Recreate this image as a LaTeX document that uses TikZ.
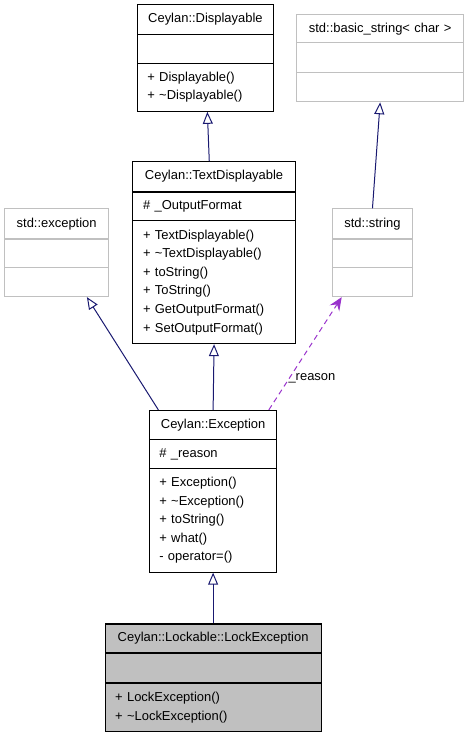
\PassOptionsToPackage{svgnames}{xcolor}
\documentclass[tikz,border=0pt]{standalone}
\usepackage{fontspec}
\setmainfont{Liberation Sans}
\usepackage{xcolor}
\usepackage{tikz}
\usetikzlibrary{arrows.meta}
\tikzset{>={Latex[width=1.5mm,length=2mm]}}
\tikzset{
  classbox/.style={shape=rectangle,draw=black,line width=0.8pt,fill=white,inner sep=0pt,font=\fontsize{9.75pt}{14pt}\selectfont},
  extbox/.style={classbox,draw=Silver},
  focusbox/.style={classbox,fill=Silver},
  inherit/.style={draw=MidnightBlue,line width=0.75pt,-{Triangle[open,length=9pt,width=7.5pt]}},
  usage/.style={draw=DarkOrchid,line width=0.75pt,dash pattern=on 4pt off 3pt,-{Stealth[length=10pt,width=8.5pt,inset=3.5pt]}}
}

\begin{document}
\begin{tikzpicture}

\useasboundingbox (0in,0in) rectangle (4.875in,-7.667in);

% Ceylan::Displayable
\path (2.14in,-0.20in) node [classbox,minimum height=0.31in,minimum width=1.42in,text width=1.21in,align=center] (dispTitle) {Ceylan::Displayable};
\path (2.14in,-0.51in) node [classbox,minimum height=0.30in,minimum width=1.42in] (dispAttr) {};
\path (2.14in,-0.91in) node [classbox,minimum height=0.50in,minimum width=1.42in,text width=1.21in,align=left] (dispOps) {+ Displayable()\\+ \textasciitilde Displayable()};

% std::basic_string< char >
\path (3.96in,-0.30in) node [extbox,minimum height=0.30in,minimum width=1.74in,text width=1.53in,align=center] (basicTitle) {std::basic\_string< char >};
\path (3.96in,-0.60in) node [extbox,minimum height=0.31in,minimum width=1.74in] (basicAttr) {};
\path (3.96in,-0.91in) node [extbox,minimum height=0.30in,minimum width=1.74in] (basicOps) {};

% Ceylan::TextDisplayable
\path (2.23in,-1.84in) node [classbox,minimum height=0.31in,minimum width=1.69in,text width=1.48in,align=center] (textTitle) {Ceylan::TextDisplayable};
\path (2.23in,-2.15in) node [classbox,minimum height=0.30in,minimum width=1.69in,text width=1.48in,align=left] (textAttr) {\# \_OutputFormat};
\path (2.23in,-2.94in) node [classbox,minimum height=1.28in,minimum width=1.69in,text width=1.48in,align=left] (textOps) {+ TextDisplayable()\\+ \textasciitilde TextDisplayable()\\+ toString()\\+ ToString()\\+ GetOutputFormat()\\+ SetOutputFormat()};

% std::exception
\path (0.59in,-2.33in) node [extbox,minimum height=0.31in,minimum width=1.08in,text width=0.87in,align=center] (stdexcTitle) {std::exception};
\path (0.59in,-2.64in) node [extbox,minimum height=0.30in,minimum width=1.08in] (stdexcAttr) {};
\path (0.59in,-2.94in) node [extbox,minimum height=0.30in,minimum width=1.08in] (stdexcOps) {};

% std::string
\path (3.88in,-2.33in) node [extbox,minimum height=0.31in,minimum width=0.83in,text width=0.70in,align=center] (stringTitle) {std::string};
\path (3.88in,-2.64in) node [extbox,minimum height=0.30in,minimum width=0.83in] (stringAttr) {};
\path (3.88in,-2.94in) node [extbox,minimum height=0.30in,minimum width=0.83in] (stringOps) {};

% Ceylan::Exception
\path (2.22in,-4.43in) node [classbox,minimum height=0.31in,minimum width=1.33in,text width=1.12in,align=center] (exceptTitle) {Ceylan::Exception};
\path (2.22in,-4.73in) node [classbox,minimum height=0.30in,minimum width=1.33in,text width=1.12in,align=left] (exceptAttr) {\# \_reason};
\path (2.22in,-5.42in) node [classbox,minimum height=1.08in,minimum width=1.33in,text width=1.12in,align=left] (exceptOps) {+ Exception()\\+ \textasciitilde Exception()\\+ toString()\\+ what()\\- operator=()};

% Ceylan::Lockable::LockException
\path (2.22in,-6.65in) node [focusbox,minimum height=0.30in,minimum width=2.25in,text width=2.04in,align=center] (lockTitle) {Ceylan::Lockable::LockException};
\path (2.22in,-6.96in) node [focusbox,minimum height=0.31in,minimum width=2.25in] (lockAttr) {};
\path (2.22in,-7.37in) node [focusbox,minimum height=0.50in,minimum width=2.25in,text width=2.04in,align=left] (lockOps) {+ LockException()\\+ \textasciitilde LockException()};

% inheritance
\draw [inherit] ([xshift=-0.05in]textTitle.north) -- ([xshift=0.02in]dispOps.south);
\draw [inherit] (stringTitle.north) -- (basicOps.south);
\draw [inherit] (exceptTitle.north) -- (textOps.south);
\draw [inherit] ([xshift=0.10in]exceptTitle.north west) -- ([xshift=-0.23in]stdexcOps.south east);
\draw [inherit] (lockTitle.north) -- (exceptOps.south);

% usage
\draw [usage] ([xshift=-0.09in]exceptTitle.north east) -- ([xshift=0.10in]stringOps.south west) node [pos=0.30,anchor=west,xshift=-3pt,yshift=-2pt,inner sep=1pt,font=\fontsize{9.75pt}{14pt}\selectfont] (reasonLabel) {\_reason};

\end{tikzpicture}
\end{document}
